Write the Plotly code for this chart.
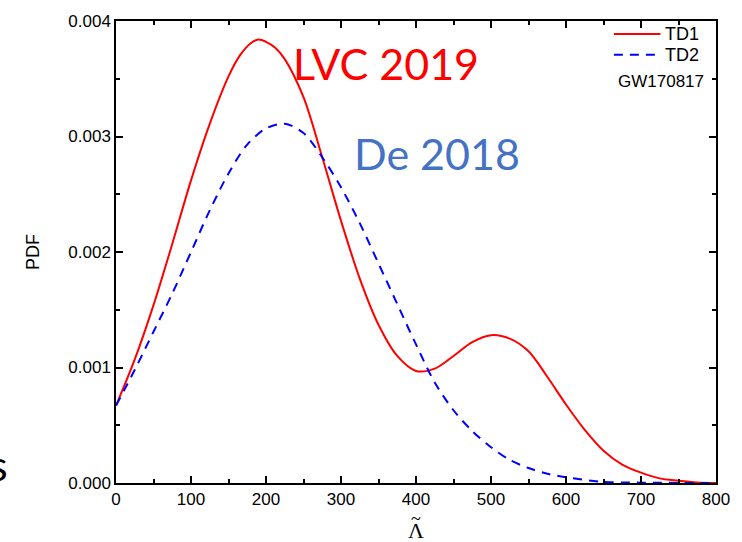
import plotly.graph_objects as go

x_td1 = [0, 25, 50, 75, 100, 125, 150, 165, 180, 190, 200, 212, 225, 250, 275, 300, 325, 350, 375, 400, 425,
         450, 475, 500, 525, 550, 575, 600, 625, 650, 675, 700, 725, 750, 775, 800]
y_td1 = [0.00067, 0.00107, 0.00154, 0.00207, 0.00262, 0.00311, 0.00352, 0.00370, 0.00381, 0.00384, 0.00382,
         0.00377, 0.00367, 0.00334, 0.00282, 0.00227, 0.00177, 0.00137, 0.00110, 0.00097, 0.00099,
         0.00110, 0.00122, 0.00128, 0.00125, 0.00114, 0.00092, 0.00068, 0.00046, 0.00028, 0.00016,
         0.00009, 0.00004, 0.00002, 0.000005, 0.0]

x_td2 = [0, 25, 50, 75, 100, 125, 150, 175, 200, 225, 250, 275, 300, 325, 350, 375, 400, 425, 450,
         475, 500, 525, 550, 575, 600, 650, 700, 800]
y_td2 = [0.00067, 0.00098, 0.00131, 0.00164, 0.00200, 0.00236, 0.00268, 0.00293, 0.00307, 0.00311,
         0.00303, 0.00282, 0.00256, 0.00225, 0.00190, 0.00155, 0.00120, 0.00087, 0.00063, 0.00045,
         0.00031, 0.00020, 0.00013, 0.00008, 0.00005, 0.00001, 0.000003, 0.0]

x_ticks = [0, 100, 200, 300, 400, 500, 600, 700, 800]
y_ticks = [0.000, 0.001, 0.002, 0.003, 0.004]
y_tick_labels = ["0.000", "0.001", "0.002", "0.003", "0.004"]

series_names = ["TD1", "TD2"]
series_colors = ["#ff0000", "#0000ff"]
series_dash = ["solid", "9px,7px"]

fig = go.Figure()
for xs, ys, nm, col, dsh in zip([x_td1, x_td2], [y_td1, y_td2], series_names, series_colors, series_dash):
    fig.add_trace(go.Scatter(x=xs, y=ys, mode="lines", name=nm, showlegend=False,
                             line=dict(color=col, width=2, dash=dsh, shape="spline", smoothing=0.9)))

tick_font = dict(family="Liberation Sans", size=17, color="black")
axis_common = dict(showline=True, linecolor="black", linewidth=1.5, mirror="ticks",
                   ticks="inside", ticklen=7, tickwidth=1.5, tickcolor="black",
                   showgrid=False, zeroline=False, tickfont=tick_font)

fig.update_xaxes(range=[0, 800], tickvals=x_ticks,
                 minor=dict(dtick=50, ticks="inside", ticklen=4, tickwidth=1.5, tickcolor="black"),
                 **axis_common)
fig.update_yaxes(range=[0, 0.004], tickvals=y_ticks, ticktext=y_tick_labels,
                 minor=dict(dtick=0.0005, ticks="inside", ticklen=4, tickwidth=1.5, tickcolor="black"),
                 title=dict(text="PDF", font=dict(family="Liberation Sans", size=18, color="black"),
                            standoff=24),
                 **axis_common)

# x-axis title: Lambda with tilde above
fig.add_annotation(x=0.5, y=-0.102, xref="paper", yref="paper", xanchor="center", yanchor="middle",
                   text="Λ", showarrow=False,
                   font=dict(family="Liberation Serif", size=22, color="black"))
fig.add_annotation(x=0.5, y=-0.077, xref="paper", yref="paper", xanchor="center", yanchor="middle",
                   text="~", showarrow=False,
                   font=dict(family="Liberation Serif", size=18, color="black"))

# manual legend
legend_y = [0.972, 0.9267]
for nm, col, dsh, ly in zip(series_names, series_colors, series_dash, legend_y):
    fig.add_shape(type="line", xref="paper", yref="paper", x0=0.8298, x1=0.9074, y0=ly, y1=ly,
                  line=dict(color=col, width=2, dash=dsh))
    fig.add_annotation(x=0.9124, y=ly, xref="paper", yref="paper", xanchor="left", yanchor="middle",
                       text=nm, showarrow=False,
                       font=dict(family="Liberation Sans", size=18, color="black"))
fig.add_annotation(x=0.9835, y=0.8685, xref="paper", yref="paper", xanchor="right", yanchor="middle",
                   text="GW170817", showarrow=False,
                   font=dict(family="Liberation Sans", size=17, color="black"))

fig.add_annotation(x=360, y=0.00363, xref="x", yref="y", text="LVC 2019", showarrow=False,
                   font=dict(family="Lato", size=43, color="#ff0000"))
fig.add_annotation(x=428, y=0.00285, xref="x", yref="y", text="De 2018", showarrow=False,
                   font=dict(family="Lato", size=43, color="#4472c4"))
fig.add_annotation(x=-0.177, y=0.04, xref="paper", yref="paper", xanchor="right", yanchor="middle",
                   text="s", showarrow=False,
                   font=dict(family="Lato", size=43, color="black"))

fig.update_layout(
    width=742, height=542,
    margin=dict(l=116, r=21, t=19, b=59),
    paper_bgcolor="white", plot_bgcolor="white",
    showlegend=False,
)

fig.write_html("out.html")
